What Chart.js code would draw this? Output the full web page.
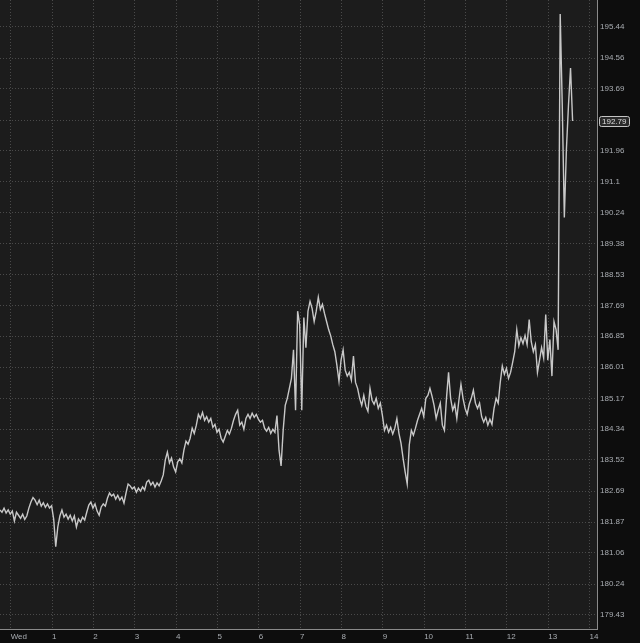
<!DOCTYPE html>
<html>
<head>
<meta charset="utf-8">
<style>
  html, body { margin: 0; padding: 0; background: #0d0d0d; }
  #wrap { width: 640px; height: 643px; }
</style>
<script src="https://cdn.jsdelivr.net/npm/chart.js@4.4.1/dist/chart.umd.min.js"></script>
</head>
<body>
<div id="wrap"><canvas id="price-chart" width="640" height="643"></canvas></div>
<script>
// ── Data ──────────────────────────────────────────────────────
// one sample every 0.05 of an axis step, first one at START
const START = -0.26;
const STEP  = 0.05;

const prices = [
  182.19, 182.13, 182.24, 182.11, 182.19, 182.08, 182.16, 181.90, 182.13, 182.05,
  181.97, 182.08, 181.94, 182.03, 182.24, 182.40, 182.52, 182.45, 182.33, 182.45,
  182.29, 182.38, 182.26, 182.35, 182.24, 182.30, 181.95, 181.22, 181.74, 182.03,
  182.19, 182.00, 182.08, 181.95, 182.05, 181.90, 182.03, 181.74, 181.95, 181.87,
  182.00, 181.92, 182.13, 182.32, 182.40, 182.24, 182.35, 182.16, 182.05, 182.27,
  182.35, 182.29, 182.50, 182.64, 182.56, 182.61, 182.48, 182.58, 182.45, 182.53,
  182.37, 182.64, 182.88, 182.83, 182.75, 182.80, 182.66, 182.77, 182.69, 182.80,
  182.72, 182.93, 182.98, 182.85, 182.93, 182.80, 182.91, 182.83, 182.96, 183.12,
  183.52, 183.73, 183.44, 183.57, 183.33, 183.20, 183.47, 183.55, 183.44, 183.78,
  184.02, 183.94, 184.10, 184.37, 184.23, 184.45, 184.74, 184.63, 184.79, 184.58,
  184.68, 184.53, 184.63, 184.39, 184.47, 184.26, 184.34, 184.10, 184.00, 184.15,
  184.31, 184.21, 184.37, 184.58, 184.74, 184.85, 184.45, 184.53, 184.34, 184.63,
  184.74, 184.63, 184.77, 184.66, 184.74, 184.61, 184.53, 184.58, 184.37, 184.29,
  184.39, 184.23, 184.34, 184.26, 184.71, 183.78, 183.36, 184.31, 184.98, 185.17,
  185.44, 185.71, 186.48, 184.85, 187.53, 187.16, 184.85, 187.36, 186.54, 187.53,
  187.80, 187.61, 187.25, 187.53, 187.91, 187.58, 187.72, 187.47, 187.25, 187.03,
  186.86, 186.62, 186.43, 186.06, 185.63, 186.20, 186.48, 185.93, 185.77, 185.87,
  185.66, 186.31, 185.60, 185.44, 185.17, 184.98, 185.25, 184.96, 184.82, 185.44,
  185.12, 185.01, 185.17, 184.90, 185.04, 184.71, 184.31, 184.45, 184.26, 184.39,
  184.21, 184.37, 184.63, 184.23, 183.97, 183.57, 183.20, 182.88, 183.92, 184.31,
  184.18, 184.37, 184.58, 184.74, 184.90, 184.68, 185.17, 185.25, 185.44, 185.23,
  184.98, 184.63, 184.85, 185.04, 184.45, 184.31, 185.17, 185.87, 185.17, 184.85,
  185.01, 184.63, 185.12, 185.55, 185.17, 184.90, 184.74, 185.01, 185.17, 185.39,
  185.04, 184.90, 185.04, 184.68, 184.53, 184.66, 184.45, 184.61, 184.47, 184.90,
  185.17, 185.04, 185.60, 186.04, 185.82, 185.98, 185.71, 185.87, 186.14, 186.43,
  187.03, 186.59, 186.81, 186.65, 186.87, 186.62, 187.30, 186.70, 186.43, 186.62,
  185.87, 186.20, 186.54, 186.26, 187.44, 186.20, 186.76, 185.77, 187.25, 187.03,
  186.48, 195.81, 193.22, 190.10, 191.99, 193.22, 194.28, 192.79
];

const xTickLabels = ['Wed', '1', '2', '3', '4', '5', '6', '7', '8', '9', '10', '11', '12', '13', '14'];

const yTickLabels = [
  '179.43', '180.24', '181.06', '181.87', '182.69', '183.52', '184.34', '185.17', '186.01', '186.85',
  '187.69', '188.53', '189.38', '190.24', '191.1', '191.96', '192.79', '193.69', '194.56', '195.44'
];

// ── Look ──────────────────────────────────────────────────────
const AXIS_BG  = '#0d0d0d';
const PLOT_BG  = '#1c1c1c';
const GRID     = '#4a4a4a';
const BORDER   = '#8a8a8a';
const TEXT     = '#a9adb2';
const LINE     = '#c8c8c8';
const FONT     = { family: 'Liberation Sans', size: 8 };

// ── Points ────────────────────────────────────────────────────
const points = prices.map(function (p, i) {
  return { x: START + i * STEP, y: p };
});

// ── Plugins: backgrounds and the last price box ───────────────
const backdrop = {
  id: 'backdrop',
  beforeDraw: function (chart) {
    const ctx = chart.ctx;
    const a = chart.chartArea;
    ctx.save();
    ctx.fillStyle = AXIS_BG;
    ctx.fillRect(0, 0, chart.width, chart.height);
    ctx.fillStyle = PLOT_BG;
    ctx.fillRect(a.left, a.top, a.right - a.left, a.bottom - a.top);
    ctx.restore();
  }
};

const lastPrice = {
  id: 'lastPrice',
  afterDraw: function (chart) {
    const ctx   = chart.ctx;
    const last  = prices[prices.length - 1];
    const label = yTickLabels[16];
    const y     = Math.round(chart.scales.y.getPixelForValue(last)) + 0.5;
    ctx.save();
    ctx.font = FONT.size + 'px ' + FONT.family;
    const w = Math.ceil(ctx.measureText(label).width) + 5;
    const x = chart.chartArea.right + 2.5;
    ctx.beginPath();
    ctx.roundRect(x, y - 5, w, 10, 2);
    ctx.fillStyle = '#2a2a2a';
    ctx.fill();
    ctx.strokeStyle = '#c4c4c4';
    ctx.lineWidth = 1;
    ctx.stroke();
    ctx.fillStyle = '#dcdcdc';
    ctx.textBaseline = 'middle';
    ctx.fillText(label, x + 2.5, y + 0.5);
    ctx.restore();
  }
};

// ── Chart ─────────────────────────────────────────────────────
new Chart(document.getElementById('price-chart'), {
  type: 'line',
  data: {
    datasets: [{
      data:        points,
      borderColor: LINE,
      borderWidth: 1.4,
      pointRadius: 0,
      tension:     0
    }]
  },
  options: {
    responsive: false,
    animation: false,
    events: [],
    layout: { padding: 0 },
    plugins: {
      legend:  { display: false },
      tooltip: { enabled: false }
    },
    scales: {
      x: {
        type: 'linear',
        min: -0.258,
        max: 14.18,
        afterBuildTicks: function (scale) {
          scale.ticks = xTickLabels.map(function (_, i) { return { value: i }; });
        },
        afterFit: function (scale) {
          scale.height = 14;
          scale.paddingLeft = 0;
          scale.paddingRight = 0;
        },
        grid:   { color: GRID, drawTicks: false },
        border: { display: true, color: BORDER, dash: [1, 2] },
        ticks: {
          color: TEXT,
          font: FONT,
          align: 'start',
          padding: 3,
          maxRotation: 0,
          autoSkip: false,
          callback: function (v, i) { return xTickLabels[i]; }
        }
      },
      y: {
        type: 'logarithmic',
        position: 'right',
        bounds: 'data',
        min: 179.065,
        max: 196.208,
        afterBuildTicks: function (scale) {
          scale.ticks = yTickLabels.map(function (t) { return { value: parseFloat(t) }; });
        },
        // labels sit well inside the plot, so no extra room above or below
        afterFit: function (scale) {
          scale.width = 43;
          scale.paddingTop = 0;
          scale.paddingBottom = 0;
        },
        grid:   { color: GRID, drawTicks: false },
        border: { display: true, color: BORDER, dash: [1, 2] },
        ticks: {
          color: TEXT,
          font: FONT,
          padding: 3,
          autoSkip: false,
          callback: function (v, i) { return yTickLabels[i]; }
        }
      }
    }
  },
  plugins: [backdrop, lastPrice]
});
</script>
</body>
</html>
